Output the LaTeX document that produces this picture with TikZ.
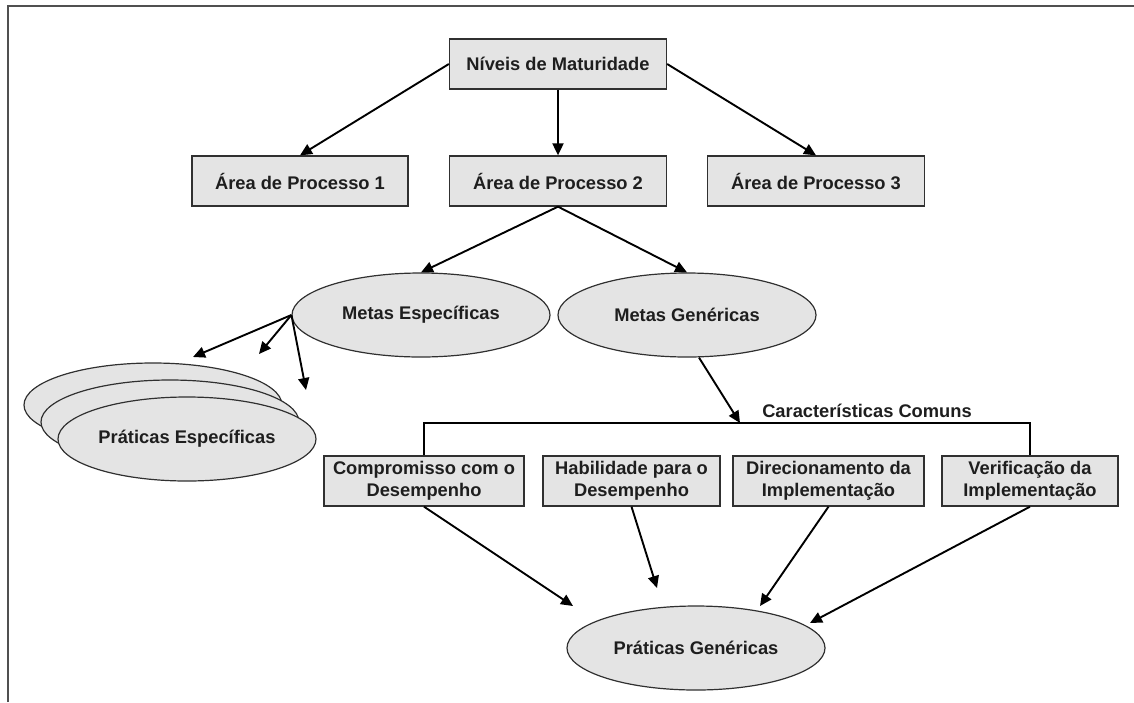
\documentclass[tikz,border=0pt]{standalone}
\usepackage{fontspec}
\setmainfont{Liberation Sans}
\usetikzlibrary{arrows.meta,calc,shapes.geometric}
\definecolor{boxfill}{HTML}{E4E4E4}
\definecolor{edgegray}{HTML}{303030}
\definecolor{ink}{HTML}{1E1E1E}
\definecolor{framegray}{HTML}{505050}

\begin{document}
\begin{tikzpicture}[x=1pt,y=-1pt,
  lbl/.style={font=\fontsize{18.3}{22}\selectfont\bfseries, text=ink},
  box/.style={lbl, draw=edgegray, fill=boxfill, line width=1.3pt,
    minimum height=50pt, inner sep=0pt, align=center},
  oval/.style={lbl, ellipse, draw=edgegray, fill=boxfill, line width=1.2pt,
    minimum width=258pt, minimum height=84pt, inner sep=0pt},
  link/.style={line width=1.9pt, draw=black, -{Triangle[length=12pt,width=11pt]}},
  bar/.style={line width=1.9pt, draw=black},
]
\useasboundingbox (0,0) rectangle (1134,702);

% page frame (top and left edges)
\draw[line width=1.5pt, framegray] (8,702) -- (8,6) -- (1134,6);

% maturity levels and process areas
\node[box, minimum width=217pt] (niv) at (558,64) {Níveis de Maturidade};
\node[box, minimum width=216pt] (a1) at (300,181) {Área de Processo 1};
\node[box, minimum width=217pt] (a2) at (558,181) {Área de Processo 2};
\node[box, minimum width=217pt] (a3) at (816,181) {Área de Processo 3};

% goals
\node[oval] (me) at (421,315) {Metas Específicas};
\node[oval] (mg) at (687,315) {Metas Genéricas};

% stacked specific practices
\node[oval] (peb) at (153,405) {};
\node[oval] (pem) at (170,422) {};
\node[oval] (pe) at (187,439) {Práticas Específicas};

% common features
\node[lbl] (cc) at (867,411) {Características Comuns};
\node[box, minimum width=200pt] (cd) at (424,481) {Compromisso com o\\Desempenho};
\node[box, minimum width=177pt] (hd) at (631.5,481) {Habilidade para o\\Desempenho};
\node[box, minimum width=191pt] (di) at (828.5,481) {Direcionamento da\\Implementação};
\node[box, minimum width=176pt] (vi) at (1030,481) {Verificação da\\Implementação};

% generic practices
\node[oval] (pg) at (696,648) {Práticas Genéricas};

% free arrow ends
\coordinate (t1) at (193,357);
\coordinate (t2) at (259,354);
\coordinate (t3) at (306,390);
\coordinate (hub) at (740,423);
\coordinate (g1) at (573,606);
\coordinate (g2) at (657,588);
\coordinate (g3) at (760,606);
\coordinate (g4) at (810,623);

% connectors
\draw[link] (niv.west) -- (a1.north);
\draw[link] (niv.south) -- (a2.north);
\draw[link] (niv.east) -- (a3.north);
\draw[link] (a2.south) -- (me.north);
\draw[link] (a2.south) -- (mg.north);
\draw[link] (me.west) -- (t1);
\draw[link] (me.west) -- (t2);
\draw[link] (me.west) -- (t3);
\draw[bar] (cd.north) |- (hub) -| (vi.north);
\draw[link] ($(mg.south)+(12,0)$) -- (hub);
\draw[link] (cd.south) -- (g1);
\draw[link] (hd.south) -- (g2);
\draw[link] (di.south) -- (g3);
\draw[link] (vi.south) -- (g4);
\end{tikzpicture}
\end{document}
